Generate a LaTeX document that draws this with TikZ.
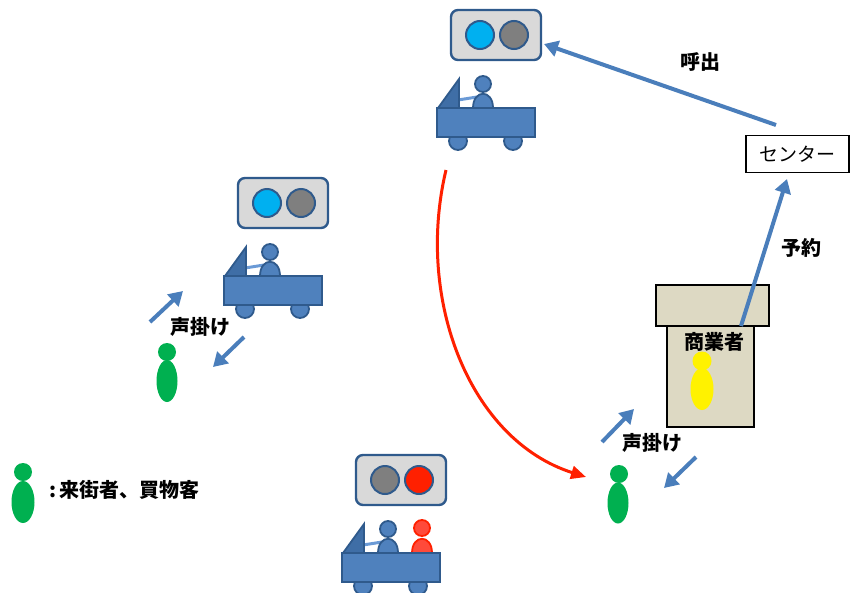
\documentclass[tikz,border=0pt]{standalone}
\usepackage{fontspec}
\newfontfamily\jp{Noto Sans CJK JP}
\usetikzlibrary{arrows.meta}
\definecolor{cartblue}{HTML}{4F81BD}
\definecolor{cartedge}{HTML}{2F5A8C}
\definecolor{cartshade}{HTML}{3F6EA6}
\definecolor{armblue}{HTML}{6A9AD6}
\definecolor{boxgray}{HTML}{D9D9D9}
\definecolor{lampblue}{HTML}{00B0F0}
\definecolor{lampgray}{HTML}{7F7F7F}
\definecolor{lampred}{HTML}{FF2000}
\definecolor{arrowblue}{HTML}{4A7EBB}
\definecolor{shopfill}{HTML}{DDD9C3}
\definecolor{guestgreen}{HTML}{00B050}
\definecolor{redperson}{HTML}{FF4A3A}
\tikzset{
  cartpart/.style={fill=cartblue, draw=cartedge, line width=1.8},
  lightbox/.style={fill=boxgray, draw=cartedge, line width=2.4, rounded corners=7},
  lamp/.style={draw=cartedge, line width=2},
  bluearrow/.style={draw=arrowblue, line width=4, -{Triangle[length=14, width=16]}},
  label/.style={font=\jp\bfseries\fontsize{20}{20}\selectfont, inner sep=0},
  pics/cart/.style 2 args={code={
    \draw[cartpart] (21,33) circle[radius=9] (76,33) circle[radius=9];
    \draw[armblue, line width=3] (21,-8) -- (40,-11);
    \draw[cartpart, fill=cartshade] (1,0) -- (22,-29) -- (22,0) -- cycle;
    \draw[cartpart] (36,0) .. controls (36,-19) and (56,-19) .. (56,0) -- cycle;
    \draw[cartpart] (46,-24) circle[radius=8];
    \draw[cartpart] (0,0) rectangle (98,29);
    \draw[lightbox] (14,-98) rectangle (104,-48);
    \draw[lamp, fill=#1] (43,-73) circle[radius=14];
    \draw[lamp, fill=#2] (77,-73) circle[radius=14];
  }}
}
\begin{document}
\begin{tikzpicture}[x=1pt, y=-1pt]
\useasboundingbox (0,0) rectangle (851,592);

% carts with their signal lamps
\pic (topcart) at (437,108) {cart={lampblue}{lampgray}};
\pic (leftcart) at (224,276) {cart={lampblue}{lampgray}};
% passenger picked up on the lower cart
\draw[draw=lampred, fill=redperson, line width=1.8] (412,553) .. controls (412,534) and (432,534) .. (432,553) -- cycle;
\draw[draw=lampred, fill=redperson, line width=1.8] (422,528) circle[radius=8];
\pic (bottomcart) at (342,553) {cart={lampgray}{lampred}};

% call centre
\node[draw=black, line width=1.2, minimum width=103, minimum height=37, inner sep=0,
      font=\jp\fontsize{19}{19}\selectfont] (center) at (797.5,154) {センター};

% shop
\node[draw=black, line width=2.6, fill=shopfill, minimum width=87, minimum height=101, inner sep=0] (shopbody) at (710.5,376.5) {};
\node[draw=black, line width=2.6, fill=shopfill, minimum width=113, minimum height=41, inner sep=0] (shoproof) at (712.5,305.5) {};
\node[label] (shoplabel) at (714,342) {商業者};
\fill[yellow] (702,361) circle[radius=9.5];
\fill[yellow] (702,389) ellipse[x radius=11.5, y radius=21];

% visitors
\fill[guestgreen] (167,352) circle[radius=9];
\fill[guestgreen] (167,381) ellipse[x radius=10.5, y radius=21];
\fill[guestgreen] (619,474) circle[radius=9];
\fill[guestgreen] (618,503) ellipse[x radius=10.5, y radius=20.5];
\fill[guestgreen] (23,472) circle[radius=9];
\fill[guestgreen] (23,502) ellipse[x radius=11.5, y radius=21];
\node[label, anchor=west] (legend) at (49,490) {:\,来街者、買物客};

% reservation and call
\coordinate (resfrom) at (741,326);
\coordinate (resto) at (787,179);
\draw[bluearrow] (resfrom) -- (resto);
\node[label] (reslabel) at (801,248) {予約};
\coordinate (callfrom) at (776,125);
\coordinate (callto) at (544,44);
\draw[bluearrow] (callfrom) -- (callto);
\node[label] (calllabel) at (700,62) {呼出};

% greetings on the left
\coordinate (la1) at (150,322);
\coordinate (la2) at (183,291);
\coordinate (lb1) at (244,337);
\coordinate (lb2) at (213,367);
\draw[bluearrow] (la1) -- (la2);
\draw[bluearrow] (lb1) -- (lb2);
\node[label] (leftgreet) at (200,327) {声掛け};

% greetings at the shop
\coordinate (ra1) at (602,442);
\coordinate (ra2) at (634,409);
\coordinate (rb1) at (696,457);
\coordinate (rb2) at (664,488);
\draw[bluearrow] (ra1) -- (ra2);
\draw[bluearrow] (rb1) -- (rb2);
\node[label] (rightgreet) at (652,443) {声掛け};

% dispatched cart route
\coordinate (routefrom) at (446,170);
\coordinate (routeto) at (586,477);
\draw[draw=lampred, line width=3, -{Triangle[length=15, width=13]}]
  (routefrom) .. controls (415,300) and (470,440) .. (routeto);
\end{tikzpicture}
\end{document}
